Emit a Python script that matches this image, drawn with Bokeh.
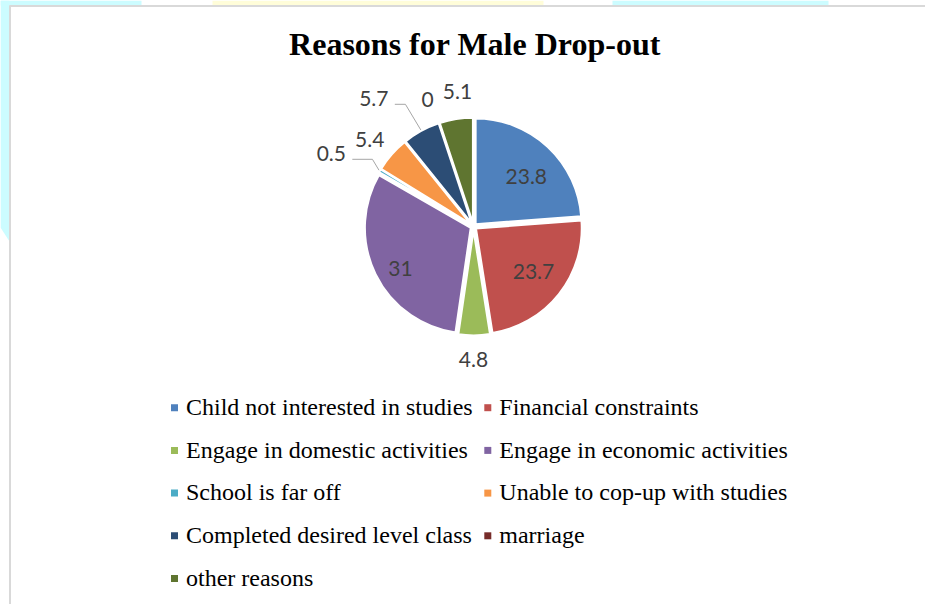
import math
from bokeh.plotting import figure
from bokeh.models import Range1d
from bokeh.core.properties import value
from bokeh.embed import file_html
from bokeh.resources import INLINE

# ---------------- data ----------------
chart_title = "Reasons for Male Drop-out"
categories = [
    "Child not interested in studies",
    "Financial constraints",
    "Engage in domestic activities",
    "Engage in economic activities",
    "School is far off",
    "Unable to cop-up with studies",
    "Completed desired level class",
    "marriage",
    "other reasons",
]
values = [23.8, 23.7, 4.8, 31, 0.5, 5.4, 5.7, 0, 5.1]
value_labels = ["23.8", "23.7", "4.8", "31", "0.5", "5.4", "5.7", "0", "5.1"]
colors = ["#4F81BD", "#C0504D", "#9BBB59", "#8064A2", "#4BACC6",
          "#F79646", "#2C4D75", "#772C2A", "#5F7530"]

# ---------------- layout (picture pixels) ----------------
W, H = 925, 604
def py(y):          # picture y (down) -> data y (up)
    return H - y

TEXT_SHIFT = 0.37   # em, baseline compensation

CX, CY = 473.0, 226.0     # pie centre
R = 106.0                 # pie radius
EXPLODE = 3.0
label_offsets = [(52.8, -50.2), (60, 45.7), (0, 132.8), (-73, 42.2),
                 (-142.2, -72.7), (-103.8, -86.5), (-99.7, -127.7),
                 (-45.8, -126.3), (-16, -134.8)]
has_leader = [False, False, False, False, True, False, True, False, False]

p = figure(width=W, height=H, x_range=Range1d(0, W), y_range=Range1d(0, H),
           output_backend="svg", toolbar_location=None, min_border=0,
           x_axis_location=None, y_axis_location=None)
p.grid.visible = False
p.outline_line_color = None
p.background_fill_color = "white"
p.border_fill_color = "white"

# page decorations around the chart area
p.quad(left=[0, 612], right=[141, 828], top=[py(0), py(0)], bottom=[py(5), py(5)],
       fill_color="#CCFCFF", line_color=None)
p.quad(left=[212], right=[543], top=[py(0)], bottom=[py(5)],
       fill_color="#FFFDD9", line_color=None)
p.patch(x=[0, 9, 9, 0], y=[py(0), py(0), py(241), py(227)],
        fill_color="#CCFCFF", line_color=None)
p.segment(x0=[9, 9.5], y0=[py(5.5), py(5)], x1=[W, 9.5], y1=[py(5.5), py(H)],
          line_color="#D9D9D9", line_width=2)

# ---------------- pie ----------------
total = float(sum(values))
wx, wy, sa, ea, wc = [], [], [], [], []
mids = []
cum = 0.0
for v, c in zip(values, colors):
    a0 = cum / total * 2 * math.pi
    cum += v
    a1 = cum / total * 2 * math.pi
    mid = (a0 + a1) / 2
    mids.append(mid)
    if v <= 0:
        continue
    wx.append(CX + EXPLODE * math.sin(mid))
    wy.append(py(CY - EXPLODE * math.cos(mid)))
    sa.append(math.pi / 2 - a0)
    ea.append(math.pi / 2 - a1)
    wc.append(c)

p.wedge(x=wx, y=wy, radius=R, start_angle=sa, end_angle=ea, direction="clock",
        fill_color=wc, line_color="white", line_width=2.2)

# leader lines
for i, flag in enumerate(has_leader):
    if not flag:
        continue
    lx = CX + label_offsets[i][0]
    ly = CY + label_offsets[i][1]
    ex = CX + (R + EXPLODE + 1) * math.sin(mids[i])
    ey = CY - (R + EXPLODE + 1) * math.cos(mids[i])
    sx, sy = lx + 21, ly + 5.5
    kx = ex - 0.6 * (ey - sy)
    p.line(x=[sx, kx, ex], y=[py(sy), py(sy), py(ey)], line_color="#A6A6A6", line_width=1)

# data labels
LBL = 21
lab_x = [CX + o[0] for o in label_offsets]
lab_y = [py(CY + o[1] + 0.36 * LBL - TEXT_SHIFT * LBL) for o in label_offsets]
p.text(x=lab_x, y=lab_y, text=value_labels, text_font=value("Lato"),
       text_font_size=f"{LBL}px", text_color="#404040", text_align="center",
       text_baseline="alphabetic")

# title
TS = 32
p.text(x=[474.5], y=[py(55 - TEXT_SHIFT * TS)], text=[chart_title],
       text_font=value("Liberation Serif"), text_font_style="bold",
       text_font_size=f"{TS}px", text_color="black",
       text_align="center", text_baseline="alphabetic")

# ---------------- legend ----------------
LS = 24
col_x = [174.0, 487.3]
row0, row_gap = 407.2, 42.7
sqx, sqy, tx, ty = [], [], [], []
for i, name in enumerate(categories):
    col, row = i % 2, i // 2
    yc = row0 + row * row_gap
    sqx.append(col_x[col])
    sqy.append(py(yc))
    tx.append(col_x[col] + 11.5)
    ty.append(py(yc + 8 - TEXT_SHIFT * LS))
p.rect(x=sqx, y=sqy, width=7, height=7, fill_color=colors, line_color=None)
p.text(x=tx, y=ty, text=categories, text_font=value("Liberation Serif"),
       text_font_size=f"{LS}px", text_color="black", text_align="left",
       text_baseline="alphabetic")

open("out.html", "w").write(file_html(p, INLINE))
